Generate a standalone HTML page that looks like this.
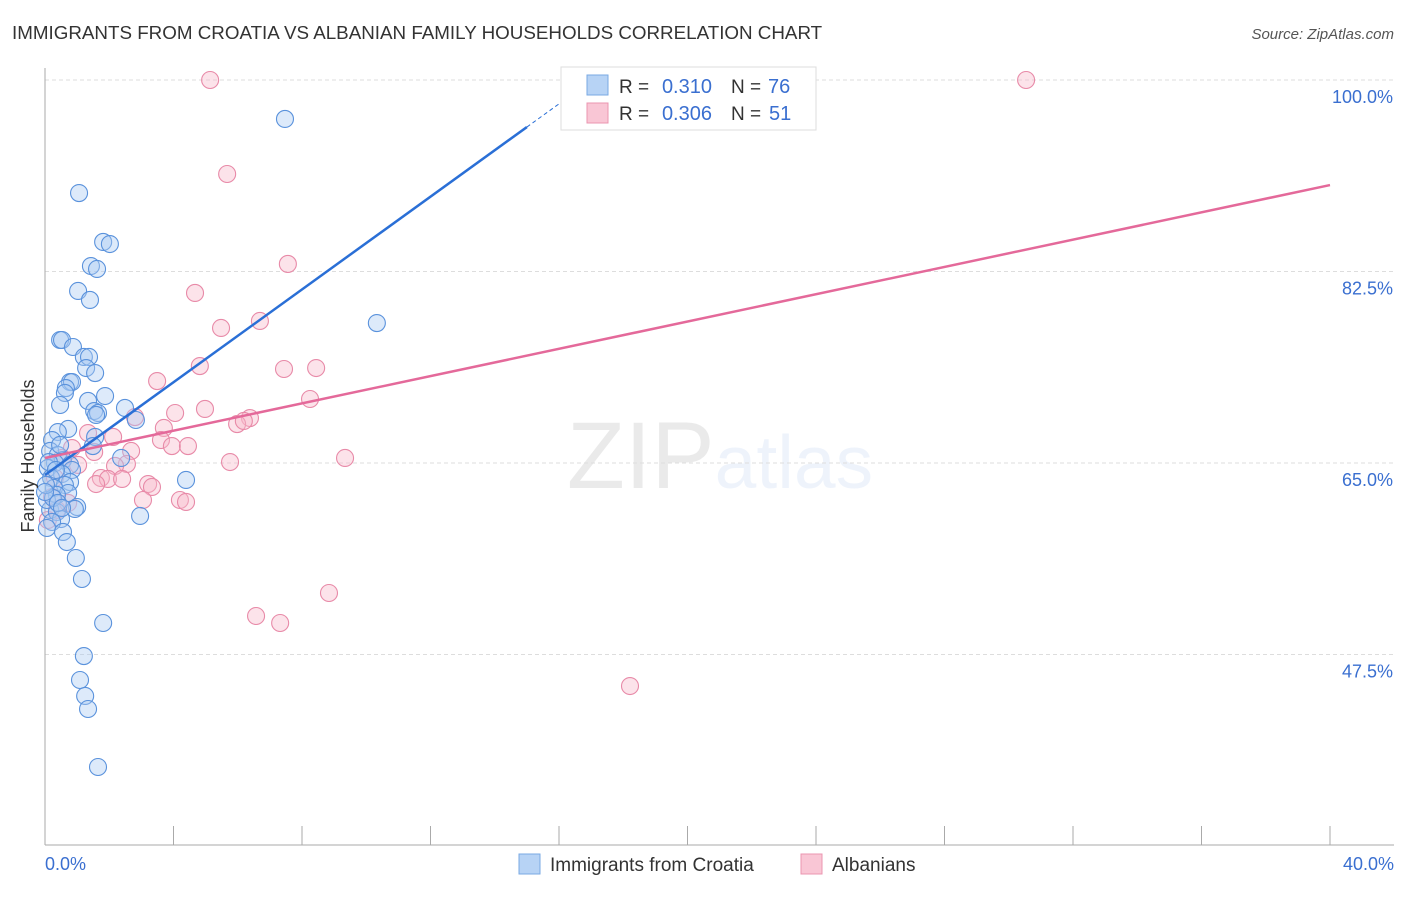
<!DOCTYPE html>
<html><head><meta charset="utf-8"><style>
body{margin:0;background:#fff;font-family:"Liberation Sans",sans-serif;}
svg text{font-family:"Liberation Sans",sans-serif;}
</style></head><body>
<svg id="chart" width="1406" height="892" xmlns="http://www.w3.org/2000/svg">
<text x="12" y="39" font-size="18.8" fill="#333">IMMIGRANTS FROM CROATIA VS ALBANIAN FAMILY HOUSEHOLDS CORRELATION CHART</text>
<text x="1394" y="39" font-size="15" fill="#555" text-anchor="end" font-style="italic">Source: ZipAtlas.com</text>
<text x="720" y="488" font-size="95" text-anchor="middle" fill="#000" opacity="0.08" font-family="Liberation Serif"><tspan>ZIP</tspan><tspan fill="#3a78d6" opacity="1.5" font-family="Liberation Sans" font-size="75">atlas</tspan></text>
<g id="grid"></g><g id="axes"></g><g id="marks"></g>
<text transform="translate(34,456) rotate(-90)" font-size="18" fill="#333" text-anchor="middle">Family Households</text>
<g>
<rect x="561" y="67" width="255" height="63" fill="#fff" stroke="#ddd"/>
<rect x="587" y="75" width="21" height="20" fill="#b7d3f5" stroke="#7aa9e3"/>
<rect x="587" y="103" width="21" height="20" fill="#f9c6d5" stroke="#eb95b0"/>
<text x="619" y="93" font-size="19" fill="#333">R =</text>
<text x="712" y="93" font-size="20" fill="#3a6fd0" text-anchor="end">0.310</text>
<text x="731" y="93" font-size="19" fill="#333">N =</text>
<text x="768" y="93" font-size="20" fill="#3a6fd0">76</text>
<text x="619" y="120" font-size="19" fill="#333">R =</text>
<text x="712" y="120" font-size="20" fill="#3a6fd0" text-anchor="end">0.306</text>
<text x="731" y="120" font-size="19" fill="#333">N =</text>
<text x="769" y="120" font-size="20" fill="#3a6fd0">51</text>
</g>
<g>
<rect x="519" y="854" width="21" height="20" fill="#b7d3f5" stroke="#7aa9e3"/>
<text x="550" y="871" font-size="19" fill="#333">Immigrants from Croatia</text>
<rect x="801" y="854" width="21" height="20" fill="#f9c6d5" stroke="#eb95b0"/>
<text x="832" y="871" font-size="19" fill="#333">Albanians</text>
</g>
</svg>
<script>
const yTicks=[100,82.5,65,47.5];
const yTickLabels=["100.0%","82.5%","65.0%","47.5%"];
const xTickLabels=["0.0%","40.0%"];
const bluePx=[[285,119],[79,193],[103,242],[110,244],[91,266],[97,269],[78,291],[90,300],[377,323],[60,340],[62,340],[73,347],[84,357],[89,357],[86,368],[95,373],[70,382],[72,382],[66,388],[65,393],[105,396],[88,401],[60,405],[125,408],[94,411],[98,413],[96,415],[136,420],[68,429],[58,432],[95,437],[52,440],[93,446],[50,451],[58,455],[121,458],[63,460],[55,463],[70,465],[48,468],[72,470],[62,474],[186,480],[51,478],[70,482],[65,485],[54,488],[68,493],[57,495],[77,507],[75,509],[50,510],[57,512],[140,516],[61,519],[52,522],[47,528],[63,532],[67,542],[76,558],[82,579],[103,623],[84,656],[80,680],[85,696],[88,709],[98,767],[47,500],[53,498],[60,445],[49,462],[56,470],[46,485],[58,503],[62,508],[45,492]];
const pinkPx=[[210,80],[1026,80],[227,174],[288,264],[195,293],[260,321],[221,328],[200,366],[284,369],[316,368],[157,381],[310,399],[205,409],[175,413],[135,417],[250,418],[237,424],[244,421],[164,428],[88,433],[113,437],[161,440],[172,446],[188,446],[72,448],[131,451],[94,452],[345,458],[230,462],[127,464],[115,466],[78,465],[101,478],[108,479],[122,479],[96,484],[148,484],[152,487],[143,500],[180,500],[186,502],[329,593],[256,616],[280,623],[630,686],[52,497],[57,510],[48,520],[68,503],[62,458],[55,478]];
const blueX=bluePx.map(p=>+((p[0]-45)/32.125).toFixed(2));
const blueY=bluePx.map(p=>+(100-(p[1]-80)/10.943).toFixed(2));
const pinkX=pinkPx.map(p=>+((p[0]-45)/32.125).toFixed(2));
const pinkY=pinkPx.map(p=>+(100-(p[1]-80)/10.943).toFixed(2));
const blueTrend=[[0,63.9],[15.0,95.7]];
const pinkTrend=[[0,65.46],[40,90.4]];

const X=v=>45+v*32.125, Y=v=>80+(100-v)*10.943;
const NS="http://www.w3.org/2000/svg";
function mk(t,a,p){const e=document.createElementNS(NS,t);for(const k in a)e.setAttribute(k,a[k]);p.appendChild(e);return e;}
const grid=document.getElementById('grid'),axes=document.getElementById('axes'),marks=document.getElementById('marks');
yTicks.forEach((v,i)=>{
 const l=mk('line',{x1:45,x2:1394,y1:Y(v),y2:Y(v),stroke:'#ddd','stroke-dasharray':'4,3'},grid);
 
 
 const t=mk('text',{x:1393,y:Y(v)+23,'font-size':18,fill:'#3a6fd0','text-anchor':'end'},axes);
 t.textContent=yTickLabels[i];
 
 
});
const ya=mk('line',{x1:45,x2:45,y1:68,y2:845,stroke:'#aaa'},axes);


const xa=mk('line',{x1:45,x2:1394,y1:845,y2:845,stroke:'#aaa'},axes);


for(let i=0;i<=10;i++){const tk=mk('line',{x1:X(i*4),x2:X(i*4),y1:826,y2:845,stroke:'#aaa'},axes);
 
 }
[[0,'start',45],[1,'end',1394]].forEach(([i,a,x])=>{const t=mk('text',{x:x,y:870,'font-size':18,fill:'#3a6fd0','text-anchor':a},axes);t.textContent=xTickLabels[i];
 
 });
function dots(xs,ys,fill,stroke,name){xs.forEach((x,i)=>{const c=mk('circle',{cx:X(x),cy:Y(ys[i]),r:8.5,fill:fill,'fill-opacity':0.4,stroke:stroke,'stroke-width':1.1},marks);
 
 });}
dots(pinkX,pinkY,'#f7b9cb','#e88aa8','albanian-point');
dots(blueX,blueY,'#a9cbf3','#5a92dc','croatia-point');
const bl=mk('line',{x1:X(blueTrend[0][0]),y1:Y(blueTrend[0][1]),x2:X(blueTrend[1][0]),y2:Y(blueTrend[1][1]),stroke:'#2a6fd6','stroke-width':2.5},marks);


const s=(blueTrend[1][1]-blueTrend[0][1])/(blueTrend[1][0]-blueTrend[0][0]);
const bd=mk('line',{x1:X(blueTrend[1][0]),y1:Y(blueTrend[1][1]),x2:X(17),y2:Y(blueTrend[0][1]+s*17),stroke:'#2a6fd6','stroke-width':1,'stroke-dasharray':'4,3'},marks);


const pl=mk('line',{x1:X(pinkTrend[0][0]),y1:Y(pinkTrend[0][1]),x2:X(pinkTrend[1][0]),y2:Y(pinkTrend[1][1]),stroke:'#e4699a','stroke-width':2.5},marks);


</script>
</body></html>
